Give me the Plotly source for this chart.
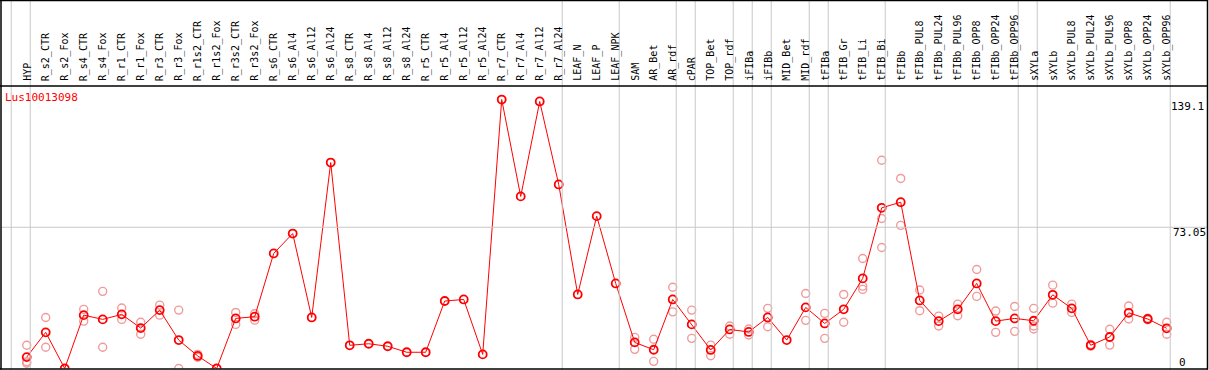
import plotly.graph_objects as go

W, H = 1209, 370

categories = ["HYP", "R_s2_CTR", "R_s2_Fox", "R_s4_CTR", "R_s4_Fox", "R_r1_CTR", "R_r1_Fox",
              "R_r3_CTR", "R_r3_Fox", "R_r1s2_CTR", "R_r1s2_Fox", "R_r3s2_CTR", "R_r3s2_Fox",
              "R_s6_CTR", "R_s6_Al4", "R_s6_Al12", "R_s6_Al24", "R_s8_CTR", "R_s8_Al4",
              "R_s8_Al12", "R_s8_Al24", "R_r5_CTR", "R_r5_Al4", "R_r5_Al12", "R_r5_Al24",
              "R_r7_CTR", "R_r7_Al4", "R_r7_Al12", "R_r7_Al24", "LEAF_N", "LEAF_P", "LEAF_NPK",
              "SAM", "AR_Bet", "AR_rdf", "cPAR", "TOP_Bet", "TOP_rdf", "iFIBa", "iFIBb",
              "MID_Bet", "MID_rdf", "tFIBa", "tFIB_Gr", "tFIB_Li", "tFIB_Bi", "tFIBb",
              "tFIBb_PUL8", "tFIBb_PUL24", "tFIBb_PUL96", "tFIBb_OPP8", "tFIBb_OPP24",
              "tFIBb_OPP96", "sXYLa", "sXYLb", "sXYLb_PUL8", "sXYLb_PUL24", "sXYLb_PUL96",
              "sXYLb_OPP8", "sXYLb_OPP24", "sXYLb_OPP96"]

mean_values = [5.9, 18.7, 0.0, 27.6, 25.4, 28.0, 20.9, 30.2, 14.7, 6.5, 0.0, 25.9, 26.8,
               59.5, 69.8, 26.4, 106.5,
               12.0, 12.8, 11.5, 8.4, 8.4, 34.9, 35.7, 7.3,
               139.1, 89.0, 138.1, 95.2,
               38.3, 78.8, 44.0,
               13.5, 9.7, 35.7, 22.8, 9.6, 20.2, 18.9, 26.4, 14.7, 31.6, 23.3, 30.6, 46.6, 83.1, 86.0,
               35.2, 24.5, 30.6, 44.0, 24.5, 25.9, 24.7, 38.1, 31.1, 12.0, 16.3, 28.8, 25.6, 20.8]

rep_categories = ["HYP", "HYP", "HYP", "R_s2_CTR", "R_s2_CTR", "R_s4_CTR", "R_s4_CTR",
                  "R_s4_Fox", "R_s4_Fox", "R_r1_CTR", "R_r1_CTR", "R_r1_Fox", "R_r1_Fox",
                  "R_r3_CTR", "R_r3_CTR", "R_r3_Fox", "R_r3_Fox", "R_r1s2_CTR", "R_r1s2_CTR",
                  "R_r3s2_CTR", "R_r3s2_CTR", "R_r3s2_Fox", "R_r3s2_Fox",
                  "SAM", "SAM", "AR_Bet", "AR_Bet", "AR_rdf", "AR_rdf", "cPAR", "cPAR",
                  "TOP_Bet", "TOP_Bet", "TOP_rdf", "TOP_rdf", "iFIBa", "iFIBa", "iFIBb", "iFIBb",
                  "MID_rdf", "MID_rdf", "tFIBa", "tFIBa", "tFIB_Gr", "tFIB_Gr",
                  "tFIB_Li", "tFIB_Li", "tFIB_Li", "tFIB_Bi", "tFIB_Bi", "tFIB_Bi", "tFIBb", "tFIBb",
                  "tFIBb_PUL8", "tFIBb_PUL8", "tFIBb_PUL24", "tFIBb_PUL24", "tFIBb_PUL96", "tFIBb_PUL96",
                  "tFIBb_OPP8", "tFIBb_OPP8", "tFIBb_OPP24", "tFIBb_OPP24", "tFIBb_OPP96", "tFIBb_OPP96",
                  "sXYLa", "sXYLa", "sXYLa", "sXYLb", "sXYLb", "sXYLb_PUL8", "sXYLb_PUL8",
                  "sXYLb_PUL24", "sXYLb_PUL24", "sXYLb_PUL96", "sXYLb_PUL96", "sXYLb_OPP8", "sXYLb_OPP8",
                  "sXYLb_OPP24", "sXYLb_OPP24", "sXYLb_OPP96", "sXYLb_OPP96"]
rep_values = [12.0, 3.5, 2.7, 26.4, 11.0, 30.6, 24.5,
              39.9, 11.0, 31.3, 25.4, 23.9, 17.7,
              32.8, 27.6, 30.2, 0.0, 7.3, 5.8,
              29.0, 22.8, 28.3, 25.0,
              16.1, 9.9, 15.1, 3.7, 42.0, 29.3, 30.2, 15.6,
              12.1, 6.6, 22.0, 17.7, 20.4, 17.3, 31.1, 21.6,
              38.8, 24.9, 28.5, 15.6, 38.3, 23.9,
              56.9, 42.6, 40.9, 107.7, 77.6, 62.6, 98.3, 74.0,
              40.6, 29.9, 27.1, 22.0, 33.3, 27.3,
              51.2, 37.3, 29.7, 18.7, 32.1, 19.2,
              31.1, 22.0, 20.4, 43.1, 33.8, 33.3, 29.0,
              12.4, 11.6, 20.3, 12.1, 32.3, 25.6,
              26.0, 25.2, 23.9, 17.7]

group_ends = ["HYP", "R_r7_Al24", "LEAF_NPK", "AR_rdf", "cPAR", "TOP_rdf", "iFIBa", "iFIBb",
              "MID_rdf", "tFIBa", "tFIB_Bi", "tFIBb_OPP96", "sXYLa", "sXYLb_OPP96"]

gene_title = "Lus10013098"
y_max_label = 139.1
y_mid_label = 73.05
y_axis_max = 146.1

idx = {c: i for i, c in enumerate(categories)}
xs = list(range(len(categories)))
rep_x = [idx[c] for c in rep_categories]


def px_x(p):
    return p / W


def px_y(p):
    return 1 - p / H


plot_top, plot_bot = 86, 368.5
fig = go.Figure()
fig.add_trace(go.Scatter(x=rep_x, y=rep_values, mode="markers",
                         marker=dict(symbol="circle-open", size=8, color="#f09a9a",
                                     line=dict(width=1.4, color="#f09a9a")),
                         showlegend=False, hoverinfo="skip"))
fig.add_trace(go.Scatter(x=xs, y=mean_values, mode="lines+markers",
                         line=dict(color="#ff0000", width=1),
                         marker=dict(symbol="circle-open", size=8, color="#ff0000",
                                     line=dict(width=1.8, color="#ff0000")),
                         showlegend=False))

x0_idx = -1.353
x1_idx = x0_idx + 1206 / 19.0
shapes = []
seps = [-1] + [idx[c] for c in group_ends]
for s in seps:
    shapes.append(dict(type="line", xref="x", yref="paper", x0=s + 0.185, x1=s + 0.185,
                       y0=px_y(plot_bot + 1.5), y1=1, line=dict(color="#c8c8c8", width=1)))
shapes.append(dict(type="line", xref="paper", yref="y", x0=px_x(1), x1=px_x(1207),
                   y0=y_mid_label, y1=y_mid_label, line=dict(color="#c8c8c8", width=1)))
blk = dict(color="#000000", width=1.5)
shapes += [
    dict(type="line", xref="paper", yref="paper", x0=px_x(0), x1=px_x(1208), y0=px_y(0.5), y1=px_y(0.5), line=blk),
    dict(type="line", xref="paper", yref="paper", x0=px_x(0), x1=px_x(1208), y0=px_y(plot_top), y1=px_y(plot_top), line=blk),
    dict(type="line", xref="paper", yref="paper", x0=px_x(0), x1=px_x(1208), y0=px_y(plot_bot + 0.5), y1=px_y(plot_bot + 0.5), line=blk),
    dict(type="line", xref="paper", yref="paper", x0=px_x(1), x1=px_x(1), y0=px_y(0), y1=px_y(plot_bot + 1), line=blk),
    dict(type="line", xref="paper", yref="paper", x0=px_x(1207.5), x1=px_x(1207.5), y0=px_y(0), y1=px_y(plot_bot + 1), line=blk),
]

annotations = []
for i, c in enumerate(categories):
    annotations.append(dict(x=i, y=px_y(83), xref="x", yref="paper", text=c, textangle=-90,
                            showarrow=False, xanchor="center", yanchor="bottom",
                            font=dict(family="DejaVu Sans Mono", size=10, color="#000000")))
annotations.append(dict(x=px_x(3), y=px_y(97), xref="paper", yref="paper", text=gene_title,
                        showarrow=False, xanchor="left", yanchor="middle",
                        font=dict(family="DejaVu Sans Mono", size=11, color="#ff0000")))
lab_font = dict(family="DejaVu Sans Mono", size=11, color="#000000")
annotations.append(dict(x=px_x(1206), y=px_y(107), xref="paper", yref="paper", text=str(y_max_label),
                        showarrow=False, xanchor="right", yanchor="middle", font=lab_font))
annotations.append(dict(x=px_x(1208), y=px_y(232), xref="paper", yref="paper", text=str(y_mid_label),
                        showarrow=False, xanchor="right", yanchor="middle", font=lab_font))
annotations.append(dict(x=px_x(1177), y=px_y(362), xref="paper", yref="paper", text="0",
                        showarrow=False, xanchor="left", yanchor="middle", font=lab_font))

fig.update_layout(
    width=W, height=H,
    margin=dict(l=0, r=0, t=0, b=0),
    paper_bgcolor="white", plot_bgcolor="white",
    xaxis=dict(range=[x0_idx, x1_idx], domain=[px_x(1), px_x(1207)], showgrid=False,
               zeroline=False, showticklabels=False, ticks=""),
    yaxis=dict(range=[0, y_axis_max], domain=[px_y(plot_bot), px_y(plot_top)], showgrid=False,
               zeroline=False, showticklabels=False, ticks=""),
    shapes=shapes, annotations=annotations,
)
fig.write_html("out.html", config={"displayModeBar": False},
               post_script="document.body.style.margin='0';document.body.style.padding='0';document.body.style.overflow='hidden';")
